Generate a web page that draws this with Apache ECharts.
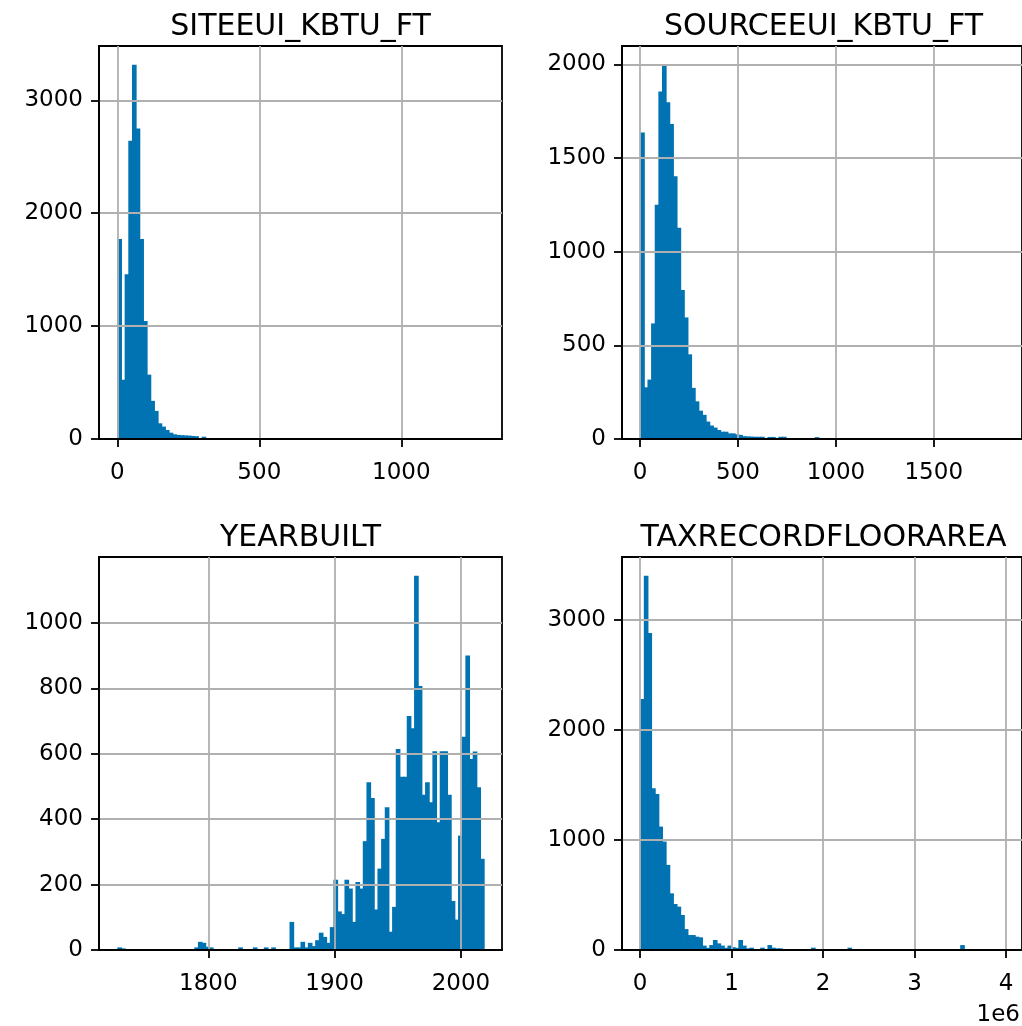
<!DOCTYPE html>
<html>
<head>
<meta charset="utf-8">
<script src="https://cdn.jsdelivr.net/npm/echarts@6/dist/echarts.min.js"></script>
<style>
  html, body { margin: 0; padding: 0; background: #ffffff; }
  #chart { width: 1022px; height: 1026px; }
</style>
</head>
<body>
<div id="chart"></div>
<script>
// Histogram data: each column has 100 equal-width bins spanning [min, max].
const columnNames = ['SITEEUI_KBTU_FT', 'SOURCEEUI_KBTU_FT', 'YEARBUILT', 'TAXRECORDFLOORAREA'];

const siteEuiRange = [0, 1290];
const siteEuiCounts = [
  1772, 525, 1460, 2641, 3315, 2751, 1772, 1045, 570, 338,
  249, 139, 110, 80, 56, 42, 36, 34, 32, 30,
  27, 25, 4, 20, 3, 2, 2, 1, 1, 1,
  1, 0, 1, 0, 0, 1, 0, 0, 0, 0,
  0, 0, 0, 0, 0, 0, 0, 0, 0, 0,
  0, 0, 0, 0, 0, 0, 0, 0, 0, 0,
  0, 0, 0, 0, 0, 0, 0, 0, 0, 0,
  0, 0, 0, 0, 0, 0, 0, 0, 0, 0,
  0, 0, 0, 0, 0, 0, 0, 0, 0, 0,
  0, 0, 0, 0, 0, 0, 0, 0, 0, 1
];

const sourceEuiRange = [0, 1858];
const sourceEuiCounts = [
  1636, 276, 317, 617, 1250, 1855, 1998, 1797, 1681, 1403,
  1128, 796, 649, 452, 273, 201, 151, 129, 93, 72,
  61, 48, 39, 39, 30, 30, 25, 22, 15, 14,
  13, 12, 12, 12, 3, 11, 11, 2, 12, 12,
  4, 1, 1, 0, 1, 0, 1, 2, 10, 1,
  0, 1, 0, 0, 0, 0, 1, 0, 0, 0,
  0, 0, 0, 0, 0, 0, 0, 0, 0, 0,
  0, 0, 0, 0, 0, 0, 0, 0, 0, 0,
  0, 0, 0, 0, 0, 0, 0, 0, 0, 0,
  0, 0, 0, 0, 0, 0, 0, 0, 0, 1
];

const yearBuiltRange = [1728, 2018];
const yearBuiltCounts = [
  8, 5, 0, 0, 0, 0, 0, 0, 0, 0,
  0, 0, 0, 0, 0, 0, 0, 0, 0, 0,
  0, 8, 25, 22, 10, 8, 0, 0, 0, 0,
  0, 0, 0, 8, 0, 0, 0, 8, 0, 0,
  8, 0, 8, 0, 0, 0, 0, 86, 8, 8,
  25, 8, 22, 12, 30, 53, 40, 22, 70, 215,
  118, 110, 215, 188, 86, 208, 188, 333, 513, 465,
  124, 249, 340, 437, 56, 132, 615, 530, 530, 716,
  678, 1145, 808, 475, 513, 452, 608, 391, 608, 608,
  475, 150, 93, 350, 652, 901, 584, 607, 498, 279
];

const floorAreaRange = [0, 3976000];
const floorAreaCounts = [
  2279, 3400, 2879, 1470, 1418, 1121, 985, 773, 515, 418,
  394, 318, 190, 136, 136, 121, 115, 40, 20, 45,
  91, 60, 40, 20, 40, 25, 20, 91, 40, 15,
  21, 5, 3, 21, 3, 45, 21, 15, 15, 2,
  2, 1, 2, 1, 0, 1, 1, 21, 1, 0,
  1, 0, 1, 0, 0, 1, 0, 21, 1, 0,
  0, 0, 0, 0, 0, 0, 0, 0, 0, 0,
  0, 0, 0, 0, 0, 0, 0, 0, 0, 0,
  0, 0, 0, 0, 0, 0, 0, 0, 45, 0,
  0, 0, 0, 0, 0, 0, 0, 0, 0, 1
];

// Tick positions
const siteEuiXTicks = [0, 500, 1000];
const siteEuiYTicks = [0, 1000, 2000, 3000];
const sourceEuiXTicks = [0, 500, 1000, 1500];
const sourceEuiYTicks = [0, 500, 1000, 1500, 2000];
const yearBuiltXTicks = [1800, 1900, 2000];
const yearBuiltYTicks = [0, 200, 400, 600, 800, 1000];
const floorAreaXTicks = [0, 1e6, 2e6, 3e6, 4e6];
const floorAreaYTicks = [0, 1000, 2000, 3000];

const BAR_COLOR = '#0173b2';
const GRID_COLOR = '#b0b0b0';
const FONT = '"DejaVu Sans", sans-serif';
const TICK_SIZE = 23;
const TITLE_SIZE = 30;
const LINE_W = 1.8;
const PANEL_W = 403, PANEL_H = 393;

const panels = [
  { name: columnNames[0], range: siteEuiRange, counts: siteEuiCounts, xTicks: siteEuiXTicks, yTicks: siteEuiYTicks, left: 99, top: 46 },
  { name: columnNames[1], range: sourceEuiRange, counts: sourceEuiCounts, xTicks: sourceEuiXTicks, yTicks: sourceEuiYTicks, left: 622, top: 46 },
  { name: columnNames[2], range: yearBuiltRange, counts: yearBuiltCounts, xTicks: yearBuiltXTicks, yTicks: yearBuiltYTicks, left: 99, top: 557 },
  { name: columnNames[3], range: floorAreaRange, counts: floorAreaCounts, xTicks: floorAreaXTicks, yTicks: floorAreaYTicks, left: 622, top: 557, scale: 1e6 }
];

// Turn counts into [binStart, binEnd, count] rows
function toBins(range, counts) {
  const w = (range[1] - range[0]) / counts.length;
  return counts.map((c, i) => [range[0] + i * w, range[0] + (i + 1) * w, c]);
}

// Each bar overlaps its right neighbour by a pixel so adjacent bins read as one solid block
function renderBar(params, api) {
  const count = api.value(2);
  if (!count) return null;
  const p0 = api.coord([api.value(0), count]);
  const p1 = api.coord([api.value(1), 0]);
  return {
    type: 'rect',
    shape: { x: p0[0], y: p0[1], width: p1[0] - p0[0] + 1, height: p1[1] - p0[1] },
    style: { fill: BAR_COLOR }
  };
}

const grids = [], xAxes = [], yAxes = [], series = [], graphics = [];

panels.forEach((p, i) => {
  const span = p.range[1] - p.range[0];
  const yMax = Math.max(...p.counts) * 1.05;
  const scale = p.scale || 1;
  grids.push({
    left: p.left, top: p.top, width: PANEL_W, height: PANEL_H,
    show: true, borderColor: '#000', borderWidth: LINE_W, backgroundColor: 'transparent'
  });
  xAxes.push({
    type: 'value', gridIndex: i, z: 3,
    min: p.range[0] - 0.05 * span, max: p.range[1] + 0.05 * span,
    axisLine: { show: true, onZero: false, lineStyle: { color: '#000', width: LINE_W } },
    axisTick: { show: true, length: 8, customValues: p.xTicks, lineStyle: { color: '#000', width: LINE_W } },
    axisLabel: {
      customValues: p.xTicks, margin: 23, fontSize: TICK_SIZE, fontFamily: FONT, color: '#000',
      formatter: v => String(Math.round(v / scale))
    },
    splitLine: { show: true, lineStyle: { color: GRID_COLOR, width: LINE_W } }
  });
  yAxes.push({
    type: 'value', gridIndex: i, z: 3,
    min: 0, max: yMax,
    axisLine: { show: true, onZero: false, lineStyle: { color: '#000', width: LINE_W } },
    axisTick: { show: true, length: 8, customValues: p.yTicks, lineStyle: { color: '#000', width: LINE_W } },
    axisLabel: {
      customValues: p.yTicks, margin: 16, fontSize: TICK_SIZE, fontFamily: FONT, color: '#000',
      formatter: v => String(Math.round(v))
    },
    splitLine: { show: true, lineStyle: { color: GRID_COLOR, width: LINE_W } }
  });
  series.push({
    type: 'custom', xAxisIndex: i, yAxisIndex: i, z: 2,
    renderItem: renderBar,
    encode: { x: [0, 1], y: 2 },
    data: toBins(p.range, p.counts),
    silent: true
  });
  graphics.push({
    type: 'text', x: p.left + PANEL_W / 2, y: p.top - 19,
    style: { text: p.name, font: `${TITLE_SIZE}px ${FONT}`, fill: '#000', textAlign: 'center', textVerticalAlign: 'middle' }
  });
});

// Offset text for the floor-area axis
graphics.push({
  type: 'text', x: 1020, y: 1015,
  style: { text: '1e6', font: `${TICK_SIZE}px ${FONT}`, fill: '#000', textAlign: 'right', textVerticalAlign: 'middle' }
});

const chart = echarts.init(document.getElementById('chart'), null, { renderer: 'canvas' });
chart.setOption({
  animation: false,
  backgroundColor: '#ffffff',
  grid: grids,
  xAxis: xAxes,
  yAxis: yAxes,
  series: series,
  graphic: graphics
});
</script>
</body>
</html>
